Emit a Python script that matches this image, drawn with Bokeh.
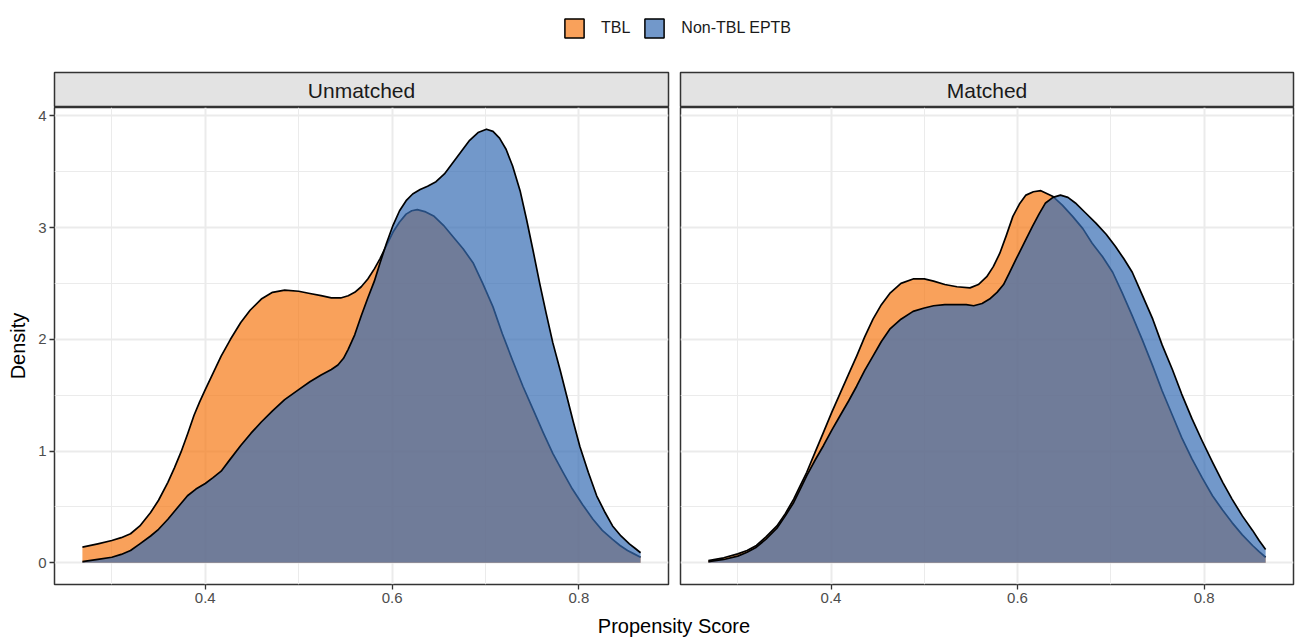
from bokeh.plotting import figure
from bokeh.models import Range1d, FixedTicker, Legend, LegendItem, Label
from bokeh.layouts import column, row
from bokeh.embed import file_html
from bokeh.resources import INLINE

# ---------------- data ----------------
GROUPS = ["TBL", "Non-TBL EPTB"]
PANELS = ["Unmatched", "Matched"]

unm_tbl_x = [0.2685, 0.285, 0.30, 0.31, 0.32, 0.33, 0.3415, 0.35, 0.36, 0.367, 0.374, 0.381,
             0.388, 0.394, 0.40, 0.408, 0.417, 0.427, 0.438, 0.448, 0.46, 0.472, 0.485, 0.50,
             0.512, 0.524, 0.535, 0.545, 0.553, 0.56, 0.567, 0.574, 0.581, 0.587, 0.594, 0.601,
             0.608, 0.615, 0.621, 0.627, 0.636, 0.645, 0.655, 0.665, 0.676, 0.687, 0.697, 0.708,
             0.718, 0.729, 0.740, 0.751, 0.762, 0.772, 0.783, 0.793, 0.804, 0.815, 0.825, 0.836,
             0.844, 0.852, 0.859, 0.866]
unm_tbl_y = [0.14, 0.17, 0.20, 0.225, 0.26, 0.33, 0.45, 0.56, 0.72, 0.85, 0.99, 1.15,
             1.32, 1.44, 1.55, 1.69, 1.85, 2.00, 2.15, 2.26, 2.36, 2.42, 2.44, 2.43,
             2.41, 2.39, 2.37, 2.37, 2.39, 2.42, 2.47, 2.54, 2.63, 2.72, 2.84, 2.96,
             3.05, 3.12, 3.15, 3.16, 3.14, 3.10, 3.02, 2.92, 2.81, 2.68, 2.50, 2.29,
             2.05, 1.81, 1.58, 1.37, 1.16, 0.98, 0.81, 0.66, 0.52, 0.39, 0.29, 0.21,
             0.155, 0.11, 0.08, 0.05]

unm_eptb_x = [0.2685, 0.285, 0.30, 0.31, 0.32, 0.33, 0.3415, 0.35, 0.36, 0.37, 0.381, 0.39,
              0.40, 0.408, 0.417, 0.427, 0.438, 0.449, 0.46, 0.472, 0.485, 0.50, 0.512, 0.524,
              0.535, 0.542, 0.548, 0.553, 0.56, 0.567, 0.574, 0.581, 0.587, 0.594, 0.601, 0.608,
              0.615, 0.622, 0.63, 0.638, 0.647, 0.656, 0.665, 0.674, 0.683, 0.692, 0.701, 0.708,
              0.715, 0.722, 0.729, 0.737, 0.744, 0.751, 0.758, 0.765, 0.772, 0.780, 0.787, 0.794,
              0.801, 0.810, 0.819, 0.828, 0.836, 0.845, 0.854, 0.860, 0.866]
unm_eptb_y = [0.01, 0.03, 0.05, 0.075, 0.11, 0.17, 0.24, 0.30, 0.39, 0.49, 0.60, 0.66,
              0.71, 0.76, 0.82, 0.93, 1.05, 1.16, 1.26, 1.36, 1.46, 1.55, 1.62, 1.68,
              1.73, 1.77, 1.83, 1.91, 2.04, 2.21, 2.37, 2.52, 2.68, 2.86, 3.02, 3.15,
              3.24, 3.30, 3.34, 3.37, 3.41, 3.48, 3.58, 3.68, 3.78, 3.85, 3.88, 3.86,
              3.80, 3.70, 3.55, 3.33, 3.07, 2.79, 2.50, 2.23, 1.97, 1.72, 1.49, 1.26,
              1.04, 0.81, 0.60, 0.45, 0.33, 0.24, 0.17, 0.13, 0.09]

mat_tbl_x = [0.2685, 0.285, 0.30, 0.31, 0.32, 0.33, 0.342, 0.351, 0.36, 0.367, 0.374, 0.383,
             0.392, 0.401, 0.41, 0.419, 0.4275, 0.436, 0.445, 0.454, 0.463, 0.475, 0.488, 0.50,
             0.51, 0.522, 0.535, 0.549, 0.558, 0.567, 0.574, 0.581, 0.588, 0.595, 0.602, 0.609,
             0.617, 0.625, 0.6375, 0.648, 0.659, 0.67, 0.68, 0.691, 0.702, 0.712, 0.723, 0.734,
             0.745, 0.755, 0.766, 0.776, 0.787, 0.798, 0.809, 0.82, 0.83, 0.841, 0.852, 0.859,
             0.866]
mat_tbl_y = [0.02, 0.045, 0.08, 0.11, 0.155, 0.23, 0.33, 0.44, 0.57, 0.69, 0.81, 0.99,
             1.17, 1.35, 1.52, 1.69, 1.85, 2.02, 2.18, 2.31, 2.41, 2.50, 2.54, 2.54,
             2.52, 2.49, 2.47, 2.46, 2.49, 2.56, 2.65, 2.77, 2.93, 3.10, 3.21, 3.29,
             3.32, 3.33, 3.28, 3.20, 3.10, 2.99, 2.86, 2.74, 2.60, 2.42, 2.21, 1.99,
             1.76, 1.54, 1.32, 1.12, 0.93, 0.76, 0.60, 0.47, 0.36, 0.25, 0.155, 0.10,
             0.05]

mat_eptb_x = [0.2685, 0.285, 0.30, 0.31, 0.32, 0.33, 0.342, 0.351, 0.36, 0.367, 0.374, 0.383,
              0.392, 0.401, 0.41, 0.419, 0.4275, 0.436, 0.445, 0.454, 0.463, 0.475, 0.488, 0.50,
              0.51, 0.522, 0.535, 0.545, 0.553, 0.562, 0.57, 0.578, 0.585, 0.591, 0.598, 0.607,
              0.616, 0.623, 0.63, 0.638, 0.646, 0.654, 0.662, 0.673, 0.684, 0.695, 0.705, 0.714,
              0.723, 0.734, 0.745, 0.755, 0.766, 0.776, 0.787, 0.798, 0.809, 0.82, 0.83, 0.841,
              0.852, 0.859, 0.866]
mat_eptb_y = [0.01, 0.03, 0.06, 0.095, 0.14, 0.21, 0.31, 0.42, 0.54, 0.66, 0.78, 0.92,
              1.05, 1.19, 1.32, 1.45, 1.58, 1.72, 1.85, 1.98, 2.09, 2.18, 2.25, 2.28,
              2.30, 2.31, 2.31, 2.31, 2.30, 2.32, 2.36, 2.42, 2.49, 2.59, 2.71, 2.86,
              3.01, 3.12, 3.22, 3.27, 3.29, 3.27, 3.22, 3.13, 3.04, 2.94, 2.83, 2.72,
              2.60, 2.39, 2.18, 1.95, 1.73, 1.51, 1.29, 1.09, 0.90, 0.72, 0.57, 0.42,
              0.29, 0.20, 0.12]

X_TICKS = [0.4, 0.6, 0.8]
X_MINOR = [0.3, 0.5, 0.7]
Y_TICKS = [0, 1, 2, 3, 4]
Y_MINOR = [0.5, 1.5, 2.5, 3.5]

# ---------------- style ----------------
FONT = "Liberation Sans"
COLORS = {"TBL": "#F67916", "Non-TBL EPTB": "#366CB3"}
ALPHA = 0.7
BORDER = "#333333"
GRID = "#EBEBEB"

x_lo, x_hi = min(unm_tbl_x + mat_tbl_x), max(unm_tbl_x + mat_tbl_x)
x_pad = 0.05 * (x_hi - x_lo)
X0, X1 = x_lo - x_pad, x_hi + x_pad
y_hi = max(unm_tbl_y + unm_eptb_y + mat_tbl_y + mat_eptb_y)
Y0, Y1 = -0.05 * y_hi, y_hi * 1.05

LEFT_W = 614
RIGHT_W = 613
FRAME_H = 477
BOTTOM = 28
STRIP_H = 35


def make_panel(series, show_y, left, right, fw):
    p = figure(width=left + fw + right, height=FRAME_H + BOTTOM,
               output_backend="svg", toolbar_location=None,
               x_range=Range1d(X0, X1), y_range=Range1d(Y0, Y1),
               y_axis_location="left" if show_y else None,
               min_border=0, min_border_left=left, min_border_right=right,
               min_border_top=0, min_border_bottom=BOTTOM)
    p.background_fill_color = "white"
    p.border_fill_color = "white"
    p.outline_line_color = BORDER
    p.outline_line_width = 1.5

    p.xgrid.ticker = FixedTicker(ticks=X_TICKS, minor_ticks=X_MINOR)
    p.ygrid.ticker = FixedTicker(ticks=Y_TICKS, minor_ticks=Y_MINOR)
    for g in (p.xgrid, p.ygrid):
        g.grid_line_color = GRID
        g.grid_line_width = 2
        g.minor_grid_line_color = GRID
        g.minor_grid_line_width = 1

    axes = list(p.xaxis) + (list(p.yaxis) if show_y else [])
    for ax in axes:
        ax.axis_line_color = None
        ax.major_tick_line_color = BORDER
        ax.major_tick_line_width = 1.3
        ax.major_tick_out = 5
        ax.major_tick_in = 0
        ax.minor_tick_line_color = None
        ax.major_label_text_font = FONT
        ax.major_label_text_font_size = "15px"
        ax.major_label_text_color = "#4D4D4D"
        ax.major_label_standoff = 3
    p.xaxis.ticker = FixedTicker(ticks=X_TICKS)
    if show_y:
        p.yaxis.ticker = FixedTicker(ticks=Y_TICKS)
        p.yaxis.axis_label = "Density"
        p.yaxis.axis_label_text_font = FONT
        p.yaxis.axis_label_text_font_size = "20px"
        p.yaxis.axis_label_text_font_style = "normal"
        p.yaxis.axis_label_text_color = "black"
        p.yaxis.axis_label_standoff = 6

    for name, xs, ys in series:
        p.varea(x=xs, y1=[0] * len(xs), y2=ys, fill_color=COLORS[name], fill_alpha=ALPHA)
        p.line(x=xs, y=ys, line_color="black", line_width=1.7, line_join="round")
    return p


def make_strip(text, left, right, fw):
    s = figure(width=left + fw + right, height=STRIP_H + 8,
               output_backend="svg", toolbar_location=None,
               x_range=Range1d(0, 1), y_range=Range1d(0, 1),
               x_axis_location=None, y_axis_location=None,
               min_border=0, min_border_left=left, min_border_right=right,
               min_border_top=8, min_border_bottom=0)
    s.grid.visible = False
    s.background_fill_color = "#E3E3E3"
    s.border_fill_color = "white"
    s.outline_line_color = BORDER
    s.outline_line_width = 1.5
    s.add_layout(Label(x=0.5, y=0.5, text=text, text_align="center", text_baseline="middle",
                       text_font=FONT, text_font_size="21px", text_color="#1A1A1A"))
    return s


left_panel = make_panel([("TBL", unm_tbl_x, unm_tbl_y),
                         ("Non-TBL EPTB", unm_eptb_x, unm_eptb_y)], True, 54, 6, LEFT_W)
right_panel = make_panel([("TBL", mat_tbl_x, mat_tbl_y),
                          ("Non-TBL EPTB", mat_eptb_x, mat_eptb_y)], False, 6, 5, RIGHT_W)
left_strip = make_strip(PANELS[0], 54, 6, LEFT_W)
right_strip = make_strip(PANELS[1], 6, 5, RIGHT_W)

TOTAL_W = left_panel.width + right_panel.width

# legend figure (legend proxies sit outside the visible range)
LG_H = 64
lg = figure(width=TOTAL_W, height=LG_H, output_backend="svg", toolbar_location=None,
            x_range=Range1d(0, 1), y_range=Range1d(0, 1),
            x_axis_location=None, y_axis_location=None, min_border=0)
lg.grid.visible = False
lg.outline_line_color = None
items = []
for name in GROUPS:
    r = lg.quad(left=[-3], right=[-2], top=[-2], bottom=[-3], fill_color=COLORS[name],
                fill_alpha=ALPHA, line_color="black", line_width=1.5)
    items.append(LegendItem(label=name, renderers=[r]))
legend = Legend(items=items, orientation="horizontal", location=(562, 24),
                glyph_width=24, glyph_height=24, label_height=24, label_standoff=15,
                spacing=12, padding=0, margin=0, border_line_color=None,
                background_fill_alpha=0, label_text_font=FONT, label_text_font_size="16px",
                label_text_color="#1A1A1A", label_text_baseline="middle")
lg.add_layout(legend)

# x-axis title figure
TF_H = 26
tf = figure(width=TOTAL_W, height=TF_H, output_backend="svg", toolbar_location=None,
            x_range=Range1d(0, TOTAL_W), y_range=Range1d(0, TF_H),
            x_axis_location=None, y_axis_location=None, min_border=0)
tf.grid.visible = False
tf.outline_line_color = None
tf.add_layout(Label(x=54 + (LEFT_W + 12 + RIGHT_W) / 2, y=13, text="Propensity Score",
                    text_align="center", text_baseline="middle",
                    text_font=FONT, text_font_size="20px", text_color="black"))

layout = column(lg,
                row(column(left_strip, left_panel), column(right_strip, right_panel)),
                tf)

open("out.html", "w").write(file_html(layout, INLINE))
